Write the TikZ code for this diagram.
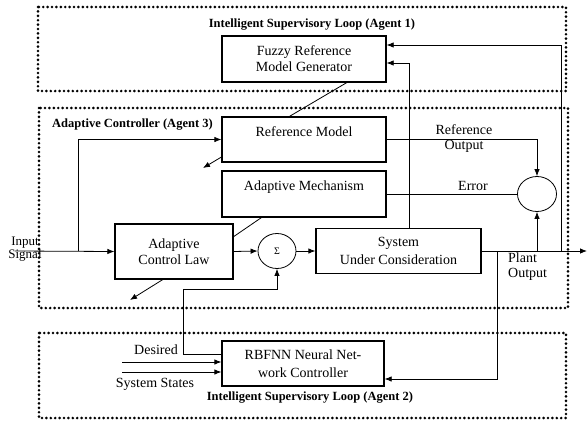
\documentclass[tikz,border=0pt]{standalone}
\usepackage{fontspec}
\setmainfont{Liberation Serif}
\usetikzlibrary{arrows.meta,shapes.geometric}
\begin{document}
\begin{tikzpicture}[x=1pt,y=-1pt,>={Latex[length=7pt,width=5.5pt]},
every node/.style={font=\fontsize{14}{16}\selectfont,inner sep=0pt},
blockbox/.style={draw,line width=1.3pt,align=center},
sumnode/.style={draw,ellipse,line width=0.8pt,minimum width=38pt,minimum height=35pt},
agentbox/.style={line width=2.9pt,dash pattern=on 0pt off 4.4pt,line cap=round},
agenttitle/.style={font=\fontsize{12.5}{14}\bfseries\selectfont},
wire/.style={line width=0.8pt}]

\useasboundingbox (0,0) rectangle (587,426);

% agent regions
\draw[agentbox] (38,7) rectangle (566,91);
\draw[agentbox] (39,108) rectangle (568,308);
\draw[agentbox] (39,333) rectangle (566,418);

\node[agenttitle] (agent1) at (312,25) {Intelligent Supervisory Loop (Agent 1)};
\node[agenttitle,anchor=west] (agent3) at (52,125) {Adaptive Controller (Agent 3)};
\node[agenttitle] (agent2) at (310,398) {Intelligent Supervisory Loop (Agent 2)};

% blocks
\node[blockbox,minimum width=164pt,minimum height=46pt] (fuzzy) at (304,59) {Fuzzy Reference\\Model Generator};
\node[blockbox,minimum width=164pt,minimum height=45pt,text depth=16pt] (refmod) at (304,139.5) {Reference Model};
\node[blockbox,minimum width=164pt,minimum height=46pt,text depth=16pt] (adapt) at (304,194) {Adaptive Mechanism};
\node[blockbox,minimum width=118pt,minimum height=55pt] (law) at (174,251.5) {Adaptive\\Control Law};
\node[sumnode,font=\fontsize{10}{12}\selectfont] (sum) at (277,251) {Σ};
\node[blockbox,minimum width=165pt,minimum height=45pt] (plant) at (398.5,251) {System\\[2pt]Under Consideration};
\node[sumnode,minimum width=39pt] (err) at (537,194) {};
\node[blockbox,minimum width=162pt,minimum height=45pt] (rbf) at (303,363.5) {RBFNN Neural Net-\\[2pt]work Controller};

% free ends and taps
\coordinate (in) at (15,251);
\coordinate (split) at (78,251);
\coordinate (out) at (587,251);
\coordinate (tapA) at (497,251);
\coordinate (tapB) at (537,251);
\coordinate (tapC) at (561,251);
\coordinate (back) at (183,289);
\coordinate (lawout) at (130,300);
\coordinate (refout) at (203,168);
\coordinate (des) at (122,362);
\coordinate (sts) at (122,372);

\draw[wire,->] (in) -- (law.west);
\draw[wire,->] (split) |- (refmod.west);
\draw[wire,->] (law.east) -- (sum.west);
\draw[wire,->] (sum.east) -- (plant.west);
\draw[wire,->] (plant.east) -- (out);
\draw[wire] (law.14) -- (adapt.209);
\draw[wire,->] (law.248) -- (lawout);
\draw[wire,->] (refmod.192) -- (refout);
\draw[wire] (fuzzy.331) -- (refmod.122);
\draw[wire,->] (refmod.east) -| (err.north);
\draw[wire] (adapt.east) -- (err.west);
\draw[wire,->] ([xshift=10.5pt]plant.north) |- ([yshift=-4pt]fuzzy.east);
\draw[wire,->] (tapA) |- ([yshift=-15.5pt]rbf.east);
\draw[wire,->] (tapB) -- (err.south);
\draw[wire,->] (tapC) |- ([yshift=14pt]fuzzy.east);
\draw[wire,->] ([yshift=9.5pt]rbf.west) -| (back) -| (sum.south);
\draw[wire,->] (des) -- (des -| rbf.west);
\draw[wire,->] (sts) -- (sts -| rbf.west);

% signal labels
\node[align=center,font=\fontsize{13}{11}\selectfont] (inlbl) at (25,249) {Input\\Signal};
\node[align=center] (reflbl) at (464,139) {Reference\\[-1pt]Output};
\node (errlbl) at (473,186) {Error};
\node[anchor=west,align=left] (outlbl) at (508,267) {Plant\\[-1pt]Output};
\node (deslbl) at (156,350) {Desired};
\node (stslbl) at (155,384) {System States};

\end{tikzpicture}
\end{document}
